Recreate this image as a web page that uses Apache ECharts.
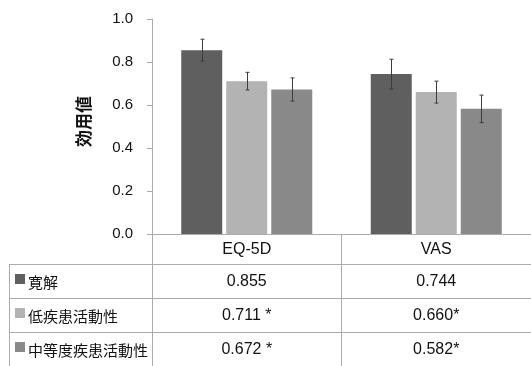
<!DOCTYPE html>
<html>
<head>
<meta charset="utf-8">
<script src="https://cdn.jsdelivr.net/npm/echarts@6/dist/echarts.min.js"></script>
<style>
html,body{margin:0;padding:0;background:#fff;}
#main{width:531px;height:366px;}
</style>
</head>
<body>
<div id="main"></div>
<script>
// ---- data ----
var categories = ['EQ-5D', 'VAS'];
var seriesNames = ['寛解', '低疾患活動性', '中等度疾患活動性'];
var remission = [0.855, 0.744];
var lowActivity = [0.711, 0.660];
var moderateActivity = [0.672, 0.582];
var remissionErr = [0.051, 0.069];
var lowActivityErr = [0.041, 0.051];
var moderateActivityErr = [0.054, 0.064];
var remissionText = ['0.855', '0.744'];
var lowActivityText = ['0.711 *', '0.660*'];
var moderateActivityText = ['0.672 *', '0.582*'];
var yTicks = [0, 0.2, 0.4, 0.6, 0.8, 1.0];
var yAxisName = '効用値';

// ---- style ----
var colors = ['#5f5f5f', '#b3b3b3', '#898989'];
var BAR_W = 41, BAR_GAP = 4;
var LINE_C = '#ababab';
var FONT = '"Liberation Sans", Arial, "Noto Sans CJK JP", sans-serif';
var CJK = '"Noto Sans CJK JP", "Liberation Sans", sans-serif';
var ROW_TOP = 264, ROW_H = 34;

var chart = echarts.init(document.getElementById('main'), null, {renderer: 'canvas'});

var values = [remission, lowActivity, moderateActivity];
var errs = [remissionErr, lowActivityErr, moderateActivityErr];
var texts = [remissionText, lowActivityText, moderateActivityText];

function errSeries(k) {
  var offset = (k - 1) * (BAR_W + BAR_GAP);
  return {
    type: 'custom',
    z: 10,
    silent: true,
    data: categories.map(function (c, i) {
      return [i, values[k][i] - errs[k][i], values[k][i] + errs[k][i]];
    }),
    renderItem: function (params, api) {
      var ci = api.value(0);
      var x = Math.round(api.coord([ci, 0])[0] + offset) + 0.5;
      var yLo = api.coord([ci, api.value(1)])[1];
      var yHi = api.coord([ci, api.value(2)])[1];
      var st = {stroke: '#3c3c3c', lineWidth: 1};
      var cap = 2;
      return {
        type: 'group',
        children: [
          {type: 'line', shape: {x1: x, y1: yLo, x2: x, y2: yHi}, style: st},
          {type: 'line', shape: {x1: x - cap, y1: yLo, x2: x + cap, y2: yLo}, style: st},
          {type: 'line', shape: {x1: x - cap, y1: yHi, x2: x + cap, y2: yHi}, style: st}
        ]
      };
    }
  };
}

var series = [];
for (var k = 0; k < 3; k++) {
  series.push({
    name: seriesNames[k],
    type: 'bar',
    data: values[k],
    barWidth: BAR_W,
    barGap: (BAR_GAP / BAR_W * 100) + '%',
    itemStyle: {color: colors[k]}
  });
}
for (var k2 = 0; k2 < 3; k2++) series.push(errSeries(k2));

// table borders + row legend (layout only)
var graphics = [];
for (var r = 0; r < 3; r++) {
  var yLine = ROW_TOP + r * ROW_H + 0.5;
  graphics.push({type: 'line', silent: true, shape: {x1: 9, y1: yLine, x2: 531, y2: yLine}, style: {stroke: LINE_C, lineWidth: 1}});
  var yc = ROW_TOP + r * ROW_H + ROW_H / 2;
  graphics.push({type: 'rect', silent: true, shape: {x: 15, y: yc - 7, width: 10, height: 10}, style: {fill: colors[r]}});
  graphics.push({type: 'text', silent: true, x: 28, y: yc + 1, style: {text: seriesNames[r], fill: '#111', font: '15px ' + CJK, textVerticalAlign: 'middle', verticalAlign: 'middle'}});
}
graphics.push({type: 'line', silent: true, shape: {x1: 9.5, y1: ROW_TOP, x2: 9.5, y2: 366}, style: {stroke: LINE_C, lineWidth: 1}});

var option = {
  animation: false,
  color: colors,
  textStyle: {fontFamily: FONT},
  grid: {left: 152, top: 19, width: 383, bottom: 132},
  legend: {show: false},
  xAxis: {
    type: 'category',
    data: categories,
    axisLine: {lineStyle: {color: LINE_C, width: 1}},
    axisTick: {show: true, length: 132, alignWithLabel: false, lineStyle: {color: LINE_C, width: 1}},
    axisLabel: {
      margin: 1,
      interval: 0,
      formatter: function (v, i) {
        return '{h|' + v + '}\n{v|' + texts[0][i] + '}\n{v|' + texts[1][i] + '}\n{v|' + texts[2][i] + '}';
      },
      rich: {
        h: {fontSize: 16, lineHeight: 30, color: '#111', fontFamily: FONT},
        v: {fontSize: 16, lineHeight: 34, color: '#111', fontFamily: FONT}
      }
    },
    splitLine: {show: false}
  },
  yAxis: {
    type: 'value',
    min: yTicks[0],
    max: yTicks[yTicks.length - 1],
    interval: yTicks[1] - yTicks[0],
    name: yAxisName,
    nameLocation: 'middle',
    nameGap: 60,
    nameRotate: 90,
    nameTextStyle: {fontFamily: CJK, fontSize: 17, fontWeight: 'bold', color: '#111', padding: [0, 0, 0, 10]},
    axisLine: {show: true, lineStyle: {color: LINE_C, width: 1}},
    axisTick: {show: true, length: 5, lineStyle: {color: LINE_C}},
    axisLabel: {margin: 19, fontSize: 15, color: '#111', formatter: function (v) { return v.toFixed(1); }},
    splitLine: {show: false}
  },
  graphic: graphics,
  series: series
};
chart.setOption(option);
</script>
</body>
</html>
